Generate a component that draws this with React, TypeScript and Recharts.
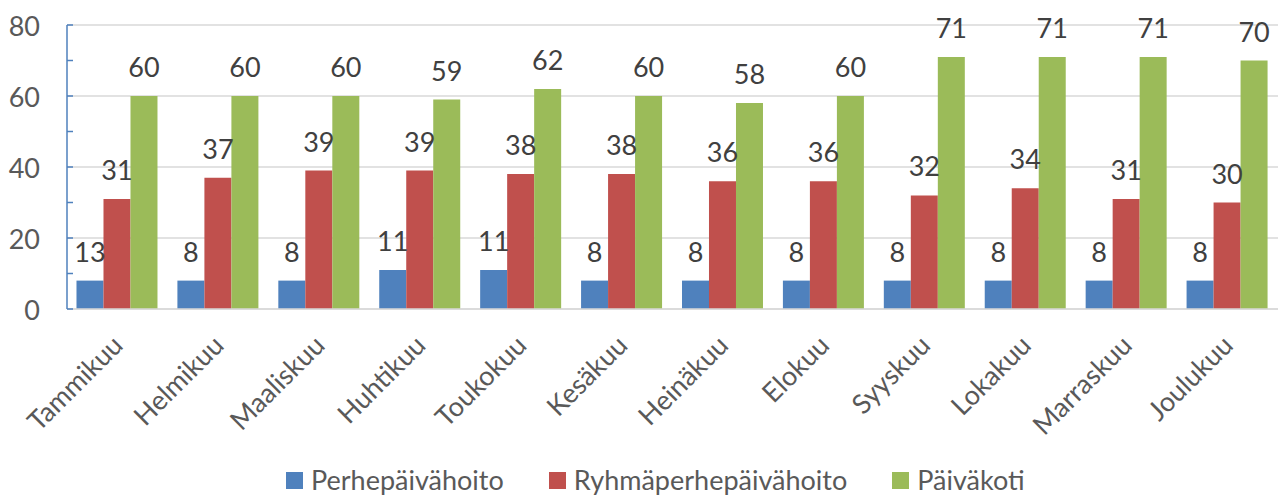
import { BarChart, Bar, XAxis, YAxis, CartesianGrid, LabelList } from 'recharts';

const months = ['Tammikuu', 'Helmikuu', 'Maaliskuu', 'Huhtikuu', 'Toukokuu', 'Kesäkuu', 'Heinäkuu', 'Elokuu', 'Syyskuu', 'Lokakuu', 'Marraskuu', 'Joulukuu'];
const perhe = [8, 8, 8, 11, 11, 8, 8, 8, 8, 8, 8, 8];
// the source chart labels the first blue bar "13" although the bar itself is drawn at 8
const perheLabels = [13, 8, 8, 11, 11, 8, 8, 8, 8, 8, 8, 8];
const ryhma = [31, 37, 39, 39, 38, 38, 36, 36, 32, 34, 31, 30];
const paivakoti = [60, 60, 60, 59, 62, 60, 58, 60, 71, 71, 71, 70];
const yTicks = [0, 20, 40, 60, 80];

const data = months.map((m, i) => ({
  month: m,
  perhe: perhe[i],
  perheLabel: perheLabels[i],
  ryhma: ryhma[i],
  paivakoti: paivakoti[i],
}));

const FONT = 'Lato, "Noto Sans", sans-serif';
const FS = 27;
const BLUE = '#4F81BD';
const RED = '#C0504D';
const GREEN = '#9BBB59';
const PLOT_TOP = 25;
const PLOT_H = 284;
const Y_AXIS_W = 67;
const Y_TICK_MARGIN = 27;
const HALF_STEP = PLOT_H / 8;

const YTick = (props: any) => {
  const { x, y, payload } = props;
  const axisX = x + Y_TICK_MARGIN;
  return (
    <g>
      <text x={x} y={y} textAnchor="end" dominantBaseline="central" fill="#595959" fontSize={FS} fontFamily={FONT}>
        {payload.value}
      </text>
      <line x1={axisX} x2={axisX + 6} y1={y} y2={y} stroke={BLUE} strokeWidth={1.5} />
      {payload.value < 80 && (
        <line x1={axisX} x2={axisX + 6} y1={y - HALF_STEP} y2={y - HALF_STEP} stroke={BLUE} strokeWidth={1.5} />
      )}
    </g>
  );
};

const XTick = (props: any) => {
  const { x, y, payload } = props;
  const tx = x + 7;
  const ty = y + 36;
  return (
    <text x={tx} y={ty} transform={`rotate(-45, ${tx}, ${ty})`} textAnchor="end" fill="#595959" fontSize={FS} fontFamily={FONT}>
      {payload.value}
    </text>
  );
};

const labelStyle = { fill: '#404040', fontSize: FS, fontFamily: FONT };

const legendItems = [
  { name: 'Perhepäivähoito', color: BLUE },
  { name: 'Ryhmäperhepäivähoito', color: RED },
  { name: 'Päiväkoti', color: GREEN },
];

export default function App() {
  return (
    <div style={{ position: 'absolute', left: 0, top: 0, width: 1285, height: 499, background: '#fff', overflow: 'hidden' }}>
      <BarChart
        width={1285}
        height={499}
        data={data}
        margin={{ top: PLOT_TOP, right: 7, left: 0, bottom: 0 }}
        barCategoryGap="9.4%"
        barGap={0}
      >
        <CartesianGrid vertical={false} stroke="#d9d9d9" strokeWidth={1.5} />
        <XAxis
          dataKey="month"
          height={499 - PLOT_TOP - PLOT_H}
          tick={<XTick />}
          tickLine={false}
          tickSize={0}
          axisLine={{ stroke: '#d9d9d9', strokeWidth: 1.5 }}
          interval={0}
        />
        <YAxis
          width={Y_AXIS_W}
          domain={[0, 80]}
          ticks={yTicks}
          tick={<YTick />}
          tickLine={false}
          tickSize={0}
          tickMargin={Y_TICK_MARGIN}
          axisLine={{ stroke: BLUE, strokeWidth: 1.5 }}
        />
        <Bar dataKey="perhe" fill={BLUE} isAnimationActive={false}>
          <LabelList dataKey="perheLabel" position="top" offset={19} style={labelStyle} />
        </Bar>
        <Bar dataKey="ryhma" fill={RED} isAnimationActive={false}>
          <LabelList dataKey="ryhma" position="top" offset={19} style={labelStyle} />
        </Bar>
        <Bar dataKey="paivakoti" fill={GREEN} isAnimationActive={false}>
          <LabelList dataKey="paivakoti" position="top" offset={19} style={labelStyle} />
        </Bar>
      </BarChart>
      <div
        style={{
          position: 'absolute',
          left: 286,
          top: 465,
          height: 30,
          display: 'flex',
          alignItems: 'center',
          fontFamily: FONT,
          fontSize: FS,
          lineHeight: '30px',
          color: '#595959',
        }}
      >
        {legendItems.map((it) => (
          <div key={it.name} style={{ display: 'flex', alignItems: 'center', marginRight: 45 }}>
            <span style={{ display: 'inline-block', width: 17, height: 17, background: it.color, marginRight: 8 }} />
            <span>{it.name}</span>
          </div>
        ))}
      </div>
    </div>
  );
}
